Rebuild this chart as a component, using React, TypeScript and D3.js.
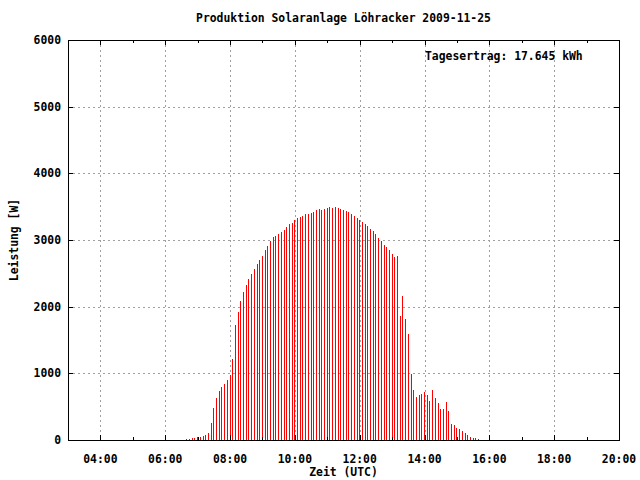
import React from "react";
import * as d3 from "d3";

const TITLE = "Produktion Solaranlage Löhracker 2009-11-25";
const ANNOTATION = "Tagesertrag: 17.645 kWh";
const X_LABEL = "Zeit (UTC)";
const Y_LABEL = "Leistung [W]";

// first sample time (hours) and sampling step (minutes)
const START_HOUR = 6 + 40 / 60;
const STEP_MIN = 5;

const watts = [
  15, 15, 30, 30, 45, 45, 60, 75, 105, 255,
  480, 630, 735, 795, 840, 900, 975, 1215, 1725, 1920,
  2085, 2220, 2325, 2415, 2490, 2565, 2640, 2700, 2760, 2850,
  2910, 2985, 3045, 3060, 3090, 3120, 3150, 3195, 3240, 3255,
  3300, 3330, 3345, 3360, 3390, 3390, 3405, 3420, 3450, 3465,
  3450, 3465, 3480, 3495, 3480, 3495, 3480, 3465, 3450, 3435,
  3420, 3390, 3360, 3330, 3300, 3270, 3240, 3210, 3165, 3135,
  3090, 3030, 2985, 2925, 2895, 2850, 2790, 2745, 2760, 1860,
  2160, 1815, 1590, 990, 750, 645, 675, 690, 720, 675,
  585, 750, 630, 555, 465, 465, 570, 435, 240, 225,
  180, 165, 135, 105, 75, 45, 30, 30, 15,
];

const xMajorTicks = [4, 6, 8, 10, 12, 14, 16, 18, 20];
const xMinorTicks = [5, 7, 9, 11, 13, 15, 17, 19];
const yTicks = [0, 1000, 2000, 3000, 4000, 5000, 6000];

const W = 640;
const H = 480;
const L = 68;
const R = 619;
const T = 40;
const B = 440;

const FONT = "'DejaVu Sans Mono', 'Liberation Mono', monospace";

function fmtHour(h: number) {
  return (h < 10 ? "0" : "") + h + ":00";
}

export default function App() {
  const x = d3.scaleLinear().domain([3, 20]).range([L, R]);
  const y = d3.scaleLinear().domain([0, 6000]).range([B, T]);
  const grid = "#a0a0a0";
  const major = 5;
  const minor = 3;

  return (
    <svg
      width={W}
      height={H}
      style={{ position: "absolute", left: 0, top: 0, background: "#fff" }}
      fontFamily={FONT}
      fontWeight="bold"
      fontSize={11.4}
    >
      <rect x={0} y={0} width={W} height={H} fill="#fff" />
      {/* grid */}
      {xMajorTicks
        .filter((h) => h < 20)
        .map((h) => (
          <line
            key={"gx" + h}
            x1={Math.round(x(h)) + 0.5}
            x2={Math.round(x(h)) + 0.5}
            y1={T}
            y2={B}
            stroke={grid}
            strokeDasharray="2,3"
          />
        ))}
      {yTicks
        .filter((v) => v > 0 && v < 6000)
        .map((v) => (
          <line
            key={"gy" + v}
            x1={L}
            x2={R}
            y1={Math.round(y(v)) + 0.5}
            y2={Math.round(y(v)) + 0.5}
            stroke={grid}
            strokeDasharray="2,3"
          />
        ))}
      {/* bars */}
      <g shapeRendering="crispEdges">
        {watts.map((v, i) => {
          const t = START_HOUR + (i * STEP_MIN) / 60;
          const px = Math.floor(x(t));
          const py = Math.round(y(v));
          return <rect key={i} x={px} y={py} width={1} height={B - py} fill="#ff0000" />;
        })}
      </g>
      {/* ticks */}
      <g stroke="#000" shapeRendering="crispEdges">
        {xMajorTicks.map((h) => {
          const px = Math.round(x(h)) + 0.5;
          return (
            <g key={"tx" + h}>
              <line x1={px} x2={px} y1={B} y2={B - major} />
              <line x1={px} x2={px} y1={T} y2={T + major} />
            </g>
          );
        })}
        {xMinorTicks.map((h) => {
          const px = Math.round(x(h)) + 0.5;
          return (
            <g key={"tm" + h}>
              <line x1={px} x2={px} y1={B} y2={B - minor} />
              <line x1={px} x2={px} y1={T} y2={T + minor} />
            </g>
          );
        })}
        {yTicks.map((v) => {
          const py = Math.round(y(v)) + 0.5;
          return (
            <g key={"ty" + v}>
              <line x1={L} x2={L + major} y1={py} y2={py} />
              <line x1={R} x2={R - major} y1={py} y2={py} />
            </g>
          );
        })}
        <rect x={L + 0.5} y={T + 0.5} width={R - L} height={B - T} fill="none" />
      </g>
      {/* labels */}
      {xMajorTicks.map((h) => (
        <text key={"lx" + h} x={x(h)} y={463} textAnchor="middle">
          {fmtHour(h)}
        </text>
      ))}
      {yTicks.map((v) => (
        <text key={"ly" + v} x={61} y={y(v) + 4} textAnchor="end">
          {v}
        </text>
      ))}
      <text x={(L + R) / 2} y={22} textAnchor="middle">
        {TITLE}
      </text>
      <text x={425} y={60}>
        {ANNOTATION}
      </text>
      <text x={(L + R) / 2} y={476} textAnchor="middle">
        {X_LABEL}
      </text>
      <text transform={`translate(18,240) rotate(-90)`} textAnchor="middle">
        {Y_LABEL}
      </text>
    </svg>
  );
}
